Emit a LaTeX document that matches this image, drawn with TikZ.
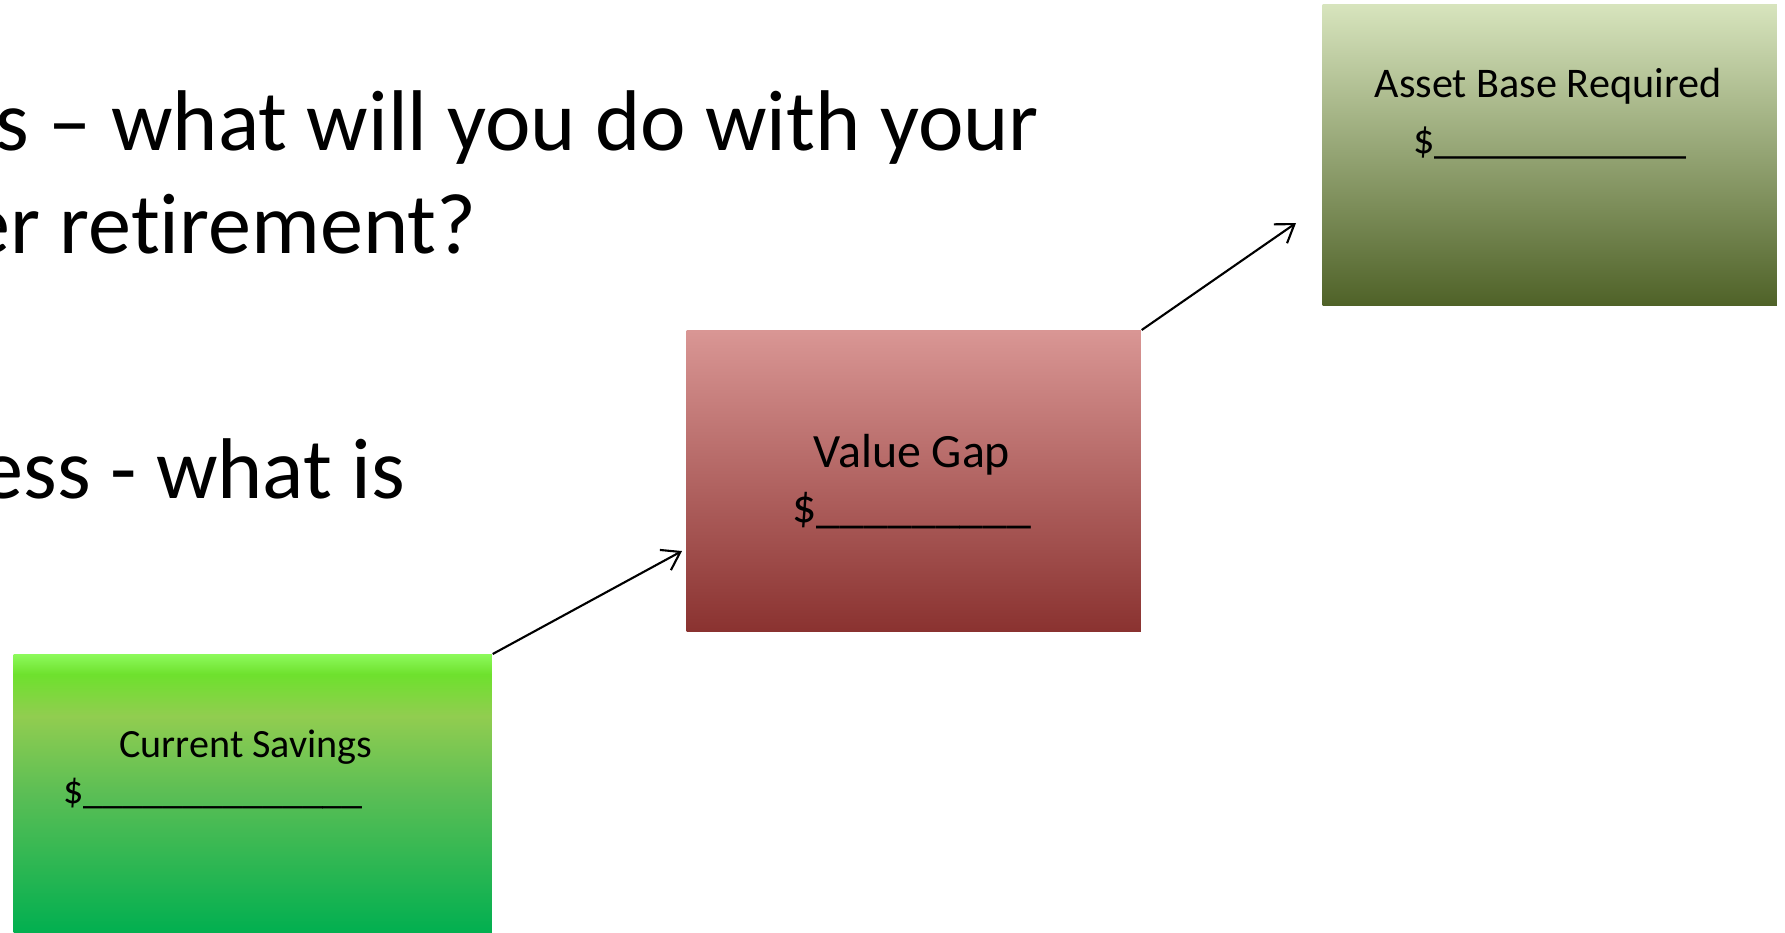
\documentclass[tikz,border=0pt]{standalone}
\usepackage{fontspec}
\setmainfont{Carlito}[Ligatures=NoCommon]
\usetikzlibrary{arrows.meta}

\definecolor{abtop}{HTML}{D7E4BD}
\definecolor{abmid}{HTML}{76923C}
\definecolor{abbot}{HTML}{4F6228}
\definecolor{vgtop}{HTML}{D99694}
\definecolor{vgmid}{HTML}{C0504D}
\definecolor{vgbot}{HTML}{8A3230}
\definecolor{cstop}{HTML}{8CF95A}
\definecolor{csbright}{HTML}{6EE12D}
\definecolor{cslight}{HTML}{91CD50}
\definecolor{csmid}{HTML}{5ABE55}
\definecolor{csbot}{HTML}{00AF50}
\pgfdeclareverticalshading{savings}{100bp}{color(0bp)=(csbot); color(25bp)=(csbot); color(50bp)=(csmid); color(64bp)=(cslight); color(71.5bp)=(csbright); color(75bp)=(cstop); color(100bp)=(cstop)}

\tikzset{
  box/.style={rectangle, anchor=north west, inner sep=0pt},
  boxtext/.style={anchor=base, inner sep=0pt},
  question/.style={anchor=base east, inner sep=0pt, font=\fontsize{24.5}{29}\selectfont},
  link/.style={-{Straight Barb[length=1.7mm,width=2.3mm]}, line width=0.6pt}
}

\begin{document}
\begin{tikzpicture}[x=0.01cm,y=-0.01cm]
  \useasboundingbox (0,0) rectangle (1785,932);
  \clip (0,0) rectangle (1785,932);
  % question text, cut at the left edge
  \node[question] (q1) at (1040,150) {s – what will you do with your};
  \node[question] (q2) at (477,253) {er retirement?};
  \node[question] (q3) at (406,498) {ess - what is};
  % boxes
  \node[box, minimum width=4.54cm, minimum height=3.01cm,
        top color=abtop, middle color=abmid, bottom color=abbot] (ab) at (1322,4) {};
  \node[box, minimum width=4.54cm, minimum height=3.01cm,
        top color=vgtop, middle color=vgmid, bottom color=vgbot] (vg) at (686,330) {};
  \node[box, minimum width=4.78cm, minimum height=2.80cm, shading=savings] (cs) at (13,654) {};
  % box texts
  \node[boxtext, font=\fontsize{12}{14}\selectfont] (abtitle) at (1548,97) {Asset Base Required};
  \node[boxtext, font=\fontsize{12}{14}\selectfont] (abvalue) at (1550,153) {\$\_\_\_\_\_\_\_\_\_\_\_\_};
  \node[boxtext, font=\fontsize{13.6}{16}\selectfont] (vgtitle) at (912,467) {Value Gap};
  \node[boxtext, font=\fontsize{13.6}{16}\selectfont] (vgvalue) at (912,522) {\$\_\_\_\_\_\_\_\_\_};
  \node[boxtext, font=\fontsize{11.4}{14}\selectfont] (cstitle) at (246,757) {Current Savings};
  \node[boxtext, font=\fontsize{11.4}{14}\selectfont] (csvalue) at (213,803) {\$\_\_\_\_\_\_\_\_\_\_\_\_\_\_};
  % arrows
  \coordinate (vgin) at (682,551);
  \coordinate (abin) at (1296,223);
  \draw[link] (cs.north east) -- (vgin);
  \draw[link] (vg.north east) -- (abin);
\end{tikzpicture}
\end{document}
